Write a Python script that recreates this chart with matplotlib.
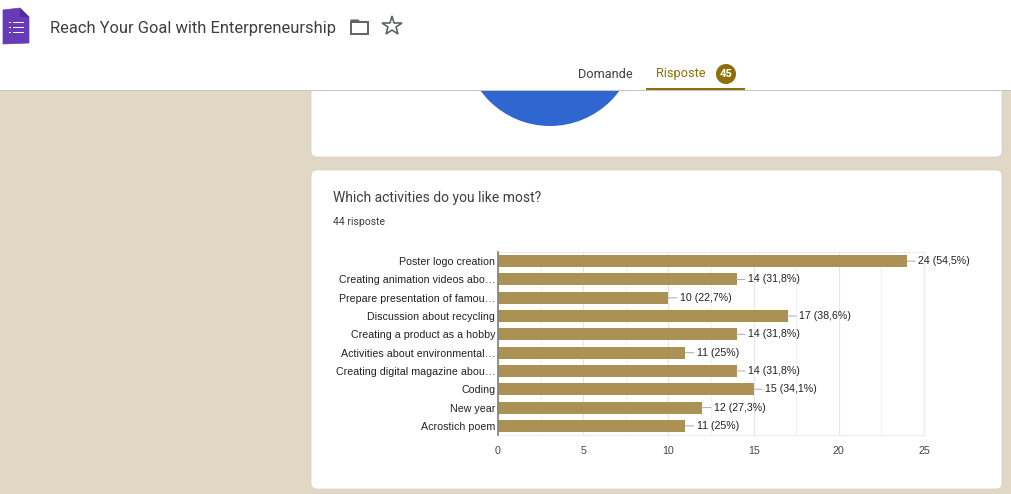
import matplotlib
matplotlib.use("Agg")
import matplotlib.pyplot as plt
from matplotlib.patches import FancyBboxPatch, Rectangle, Circle, Polygon

categories = [
    "Poster logo creation",
    "Creating animation videos abo…",
    "Prepare presentation of famou…",
    "Discussion about recycling",
    "Creating a product as a hobby",
    "Activities about environmental…",
    "Creating digital magazine abou…",
    "Coding",
    "New year",
    "Acrostich poem",
]
counts = [24, 14, 10, 17, 14, 11, 14, 15, 12, 11]
percent_labels = ["54,5%", "31,8%", "22,7%", "38,6%", "31,8%", "25%", "31,8%", "34,1%", "27,3%", "25%"]
major_ticks = [0, 5, 10, 15, 20, 25]
minor_ticks = [2.5, 7.5, 12.5, 17.5, 22.5]

BG = "#e0d8c5"
BAR = "#ac9155"
GOLD = "#8f6f0a"
W, H = 1011, 494

fig = plt.figure(figsize=(W / 100, H / 100), dpi=100, facecolor=BG)
page = fig.add_axes([0, 0, 1, 1])
page.set_xlim(0, W)
page.set_ylim(H, 0)
page.axis("off")


def card(x0, y0, x1, y1):
    page.add_patch(FancyBboxPatch((x0 + 6, y0 + 6), x1 - x0 - 12, y1 - y0 - 12,
                                  boxstyle="round,pad=6,rounding_size=6",
                                  fc="white", ec="#d6d0c0", lw=0.5, zorder=1))


card(311, 60, 1002, 157)
card(311, 170, 1002, 489)
page.add_patch(Circle((550, 40), 86, fc="#3066cf", ec="none", zorder=2))

# header
page.add_patch(Rectangle((0, 0), W, 90, fc="white", ec="none", zorder=5))
page.add_patch(Rectangle((0, 90), W, 1.5, fc="#c9c6bf", ec="none", zorder=5))
page.add_patch(Polygon([(3, 10), (20, 8), (29, 17), (29, 43), (3, 44)], closed=True,
                       fc="#673ab7", ec="#673ab7", lw=0.5, joinstyle="round", zorder=6))
page.add_patch(Polygon([(20, 8), (29, 17), (20, 17)], closed=True, fc="#4f2b94", ec="none", zorder=7))
for y in (22.5, 27.5, 32.5):
    page.add_patch(Rectangle((9, y - 0.8), 2, 1.8, fc="white", ec="none", zorder=7))
    page.add_patch(Rectangle((13, y - 0.8), 11, 1.8, fc="white", ec="none", zorder=7))
page.text(50.5, 28, "Reach Your Goal with Enterpreneurship", family="Roboto", fontsize=11.9,
          color="#3c4043", va="center", ha="left", zorder=7)
page.add_patch(Rectangle((351, 22), 17, 12, fc="white", ec="#5f6368", lw=1.4, zorder=7))
page.add_patch(Polygon([(351, 22), (351, 20), (358, 20), (360, 22)], closed=True, fc="#5f6368", ec="#5f6368", lw=0.8, zorder=7))
page.plot([391.5], [26.5], marker="*", ms=15, mfc="white", mec="#5f6368", mew=1.2, zorder=7)
page.text(605, 74, "Domande", family="Roboto", fontsize=9.2, color="#3c4043", va="center", ha="center", zorder=7)
page.text(680.5, 74, "Risposte", family="Roboto", fontsize=9.2, color=GOLD, va="center", ha="center", zorder=7)
page.add_patch(Circle((726, 74), 10, fc=GOLD, ec="none", zorder=7))
page.text(726, 74, "45", family="Roboto", fontsize=8, fontweight="bold", color="white", va="center", ha="center", zorder=8)
page.add_patch(Rectangle((646, 88), 99, 2, fc=GOLD, ec="none", zorder=7))

# card heading
page.text(333, 198, "Which activities do you like most?", family="Roboto", fontsize=10, color="#3c4043",
          va="center", ha="left", zorder=3)
page.text(333, 222, "44 risposte", family="Roboto", fontsize=7.5, color="#3c4043", va="center", ha="left", zorder=3)

# chart
ax = fig.add_axes([498 / W, 1 - 435 / H, (924 - 498) / W, (435 - 252) / H], facecolor="none")
positions = list(range(len(categories)))
ax.barh(positions, counts, height=0.66, color=BAR, zorder=3)
ax.set_xlim(0, 25)
ax.set_ylim(len(categories) - 0.5, -0.5)
ax.set_yticks(positions)
ax.set_yticklabels(categories, family="Liberation Sans", fontsize=7.7, color="#222222")
ax.set_xticks(major_ticks)
ax.set_xticklabels([str(t) for t in major_ticks], family="Liberation Sans", fontsize=7.7, color="#444444")
ax.set_xticks(minor_ticks, minor=True)
ax.tick_params(axis="both", which="both", length=0)
ax.tick_params(axis="y", pad=2)
ax.tick_params(axis="x", pad=8)
ax.grid(axis="x", which="major", color="#e6e6e6", lw=0.8, zorder=0)
ax.grid(axis="x", which="minor", color="#f2f2f2", lw=0.8, zorder=0)
for name in ("top", "right", "bottom"):
    ax.spines[name].set_color("#ececec")
    ax.spines[name].set_linewidth(0.8)
ax.spines["left"].set_color("#7f7f7f")
ax.spines["left"].set_linewidth(1.2)
ax.spines["left"].set_zorder(4)
ax.set_axisbelow(True)

for i, (v, p) in enumerate(zip(counts, percent_labels)):
    ax.annotate(f"{v} ({p})", xy=(v, i), xytext=(8, 0), textcoords="offset points",
                family="Liberation Sans", fontsize=7.7, color="#222222", va="center", ha="left",
                annotation_clip=False, zorder=5,
                arrowprops=dict(arrowstyle="-", color="#b5b5b5", lw=0.8, shrinkA=0, shrinkB=0))

fig.savefig("out.png", dpi=100, facecolor=BG)
